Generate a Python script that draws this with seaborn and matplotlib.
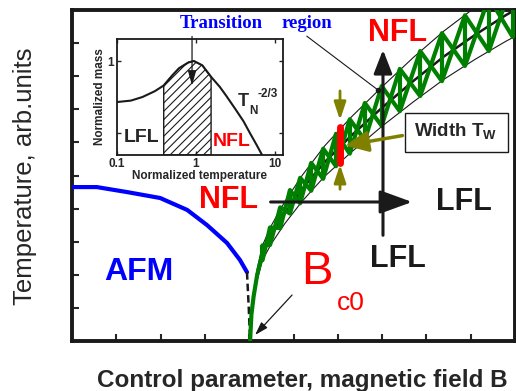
import numpy as np
import matplotlib
matplotlib.use("Agg")
import matplotlib.pyplot as plt
import seaborn as sns
from matplotlib.patches import Rectangle

# ---- main panel data (arb. units, field B vs temperature T) ----
afm_b = [0.0, 0.56, 1.24, 1.99, 2.60, 3.05, 3.50, 3.79, 3.95]
afm_t = [4.65, 4.65, 4.50, 4.32, 3.96, 3.50, 2.96, 2.45, 2.08]

dash_b = [3.95, 3.99, 4.02]
dash_t = [2.08, 1.00, 0.00]

band_b = [4.02, 4.05, 4.10, 4.18, 4.30, 4.50, 4.80, 5.20, 5.70, 6.30, 7.00, 7.70, 8.40, 9.10, 9.80, 10.0]
band_mid = [0.0, 0.80, 1.35, 2.00, 2.65, 3.20, 3.85, 4.60, 5.40, 6.20, 7.05, 7.85, 8.60, 9.25, 9.85, 10.0]
band_up = [0.0, 0.87, 1.47, 2.18, 2.89, 3.49, 4.20, 5.01, 5.89, 6.76, 7.68, 8.56, 9.37, 10.08, 10.74, 10.9]
band_low = [0.0, 0.74, 1.24, 1.84, 2.44, 2.94, 3.54, 4.23, 4.97, 5.70, 6.49, 7.22, 7.91, 8.51, 9.06, 9.20]

cell_b = [4.30, 4.47, 4.70, 4.92, 5.15, 5.40, 5.67, 5.96, 6.27, 6.61, 6.99, 7.40, 7.86, 8.35, 8.87, 9.41, 9.95]
cell_up = [2.89, 3.43, 4.04, 4.56, 4.93, 5.38, 5.81, 6.26, 6.70, 7.19, 7.70, 8.22, 8.76, 9.30, 9.84, 10.38, 10.88]
cell_low = [2.44, 2.90, 3.41, 3.85, 4.16, 4.54, 4.90, 5.28, 5.66, 6.07, 6.50, 6.94, 7.40, 7.85, 8.31, 8.76, 9.18]

width_b = [6.05, 6.05]
width_t = [5.38, 6.47]

# ---- inset data (normalized mass vs normalized temperature) ----
mass_t = [0.1, 0.15, 0.21, 0.3, 0.39, 0.5, 0.61, 0.8, 0.94, 1.2, 1.55, 2.0, 2.4, 3.2, 4.0, 4.8, 5.8, 6.8]
mass_m = [0.715, 0.725, 0.75, 0.79, 0.83, 0.90, 0.95, 0.99, 1.0, 0.97, 0.89, 0.82, 0.76, 0.66, 0.58, 0.50, 0.42, 0.35]
hatch_lo, hatch_hi = 0.39, 1.55

sns.set_theme(style="ticks")
plt.rcParams['font.family'] = ['Liberation Sans', 'DejaVu Sans']
plt.rcParams['mathtext.fontset'] = 'custom'
plt.rcParams['mathtext.rm'] = 'Liberation Sans'
plt.rcParams['mathtext.bf'] = 'Liberation Sans:bold'
plt.rcParams['hatch.linewidth'] = 0.8

fig = plt.figure(figsize=(5.16, 3.91), dpi=100)
ax = fig.add_axes([72/516, 1-341/391, 443/516, 331/391])

green = '#008000'
olive = '#808000'

sns.lineplot(x=afm_b, y=afm_t, ax=ax, sort=False, estimator=None, color='#0000ff', lw=3, zorder=3)
ax.plot(dash_b, dash_t, color='k', lw=1.8, ls=(0, (3, 1.6)), zorder=3)

sns.lineplot(x=band_b, y=band_up, ax=ax, sort=False, estimator=None, color='k', lw=0.8, zorder=2)
sns.lineplot(x=band_b, y=band_low, ax=ax, sort=False, estimator=None, color='k', lw=0.8, zorder=2)
sns.lineplot(x=band_b, y=band_mid, ax=ax, sort=False, estimator=None, color='k', lw=1.8, zorder=2)

# green stem from Bc0 up to the first cell, then the crossed cells
stem = np.array(band_b) <= cell_b[0]
ax.plot(np.array(band_b)[stem], np.array(band_mid)[stem], color=green, lw=3, zorder=4)
cb = np.array(cell_b)
cu = np.array(cell_up)
cl = np.array(cell_low)
even = np.arange(len(cb)) % 2 == 0
ax.plot(cb, np.where(even, cu, cl), color=green, lw=3, zorder=4)
ax.plot(cb, np.where(even, cl, cu), color=green, lw=3, zorder=4)
ax.vlines(cb, cl, cu, color=green, lw=3, zorder=4)

# width marker
ax.plot(width_b, width_t, color='red', lw=5, solid_capstyle='round', zorder=7)
ax.annotate('', xy=(6.05, 6.59), xytext=(6.05, 7.64), zorder=6,
            arrowprops=dict(arrowstyle='-|>,head_length=0.9,head_width=0.3', color=olive, lw=2, mutation_scale=12))
ax.annotate('', xy=(6.05, 5.41), xytext=(6.05, 4.50), zorder=6,
            arrowprops=dict(arrowstyle='-|>,head_length=0.9,head_width=0.3', color=olive, lw=2, mutation_scale=12))
ax.annotate('', xy=(6.10, 5.89), xytext=(7.52, 6.22), zorder=6,
            arrowprops=dict(arrowstyle='-|>,head_length=1.0,head_width=0.45', color=olive, lw=2.5, mutation_scale=14))
ax.add_patch(Rectangle((7.52, 5.71), 2.32, 1.18, facecolor='white', edgecolor='k', lw=1, zorder=6))
ax.text(8.67, 6.31, r'Width T$_\mathbf{W}$', fontsize=13.5, fontweight='bold', ha='center', va='center', zorder=7)

# crossover arrows
ax.annotate('', xy=(7.02, 8.88), xytext=(7.02, 3.11), zorder=5,
            arrowprops=dict(arrowstyle='-|>,head_length=0.9,head_width=0.35', color='k', lw=2.2, mutation_scale=16))
ax.annotate('', xy=(7.74, 4.20), xytext=(4.42, 4.20), zorder=5,
            arrowprops=dict(arrowstyle='-|>,head_length=1.1,head_width=0.4', color='k', lw=2.2, mutation_scale=18))
ax.annotate('', xy=(4.09, 0.12), xytext=(5.01, 1.45), zorder=5,
            arrowprops=dict(arrowstyle='-|>,head_length=0.8,head_width=0.25', color='k', lw=0.9, mutation_scale=10))

# leader to the transition region
ax.plot([5.30, 6.91], [9.21, 7.58], color='k', lw=0.8, zorder=5)
ax.plot([6.91], [7.58], 'o', color='k', ms=3, zorder=5)

ax.text(3.36, 9.58, 'Transition', color='#0000ff', family='Liberation Serif', fontweight='bold',
        fontsize=13.5, ha='center', va='center')
ax.text(5.30, 9.58, 'region', color='#0000ff', family='Liberation Serif', fontweight='bold',
        fontsize=13.5, ha='center', va='center')
ax.text(7.36, 9.31, 'NFL', color='red', fontweight='bold', fontsize=22, ha='center', va='center', zorder=6)
ax.text(3.54, 4.26, 'NFL', color='red', fontweight='bold', fontsize=22, ha='center', va='center', zorder=6)
ax.text(8.85, 4.20, 'LFL', color='k', fontweight='bold', fontsize=22, ha='center', va='center', zorder=6)
ax.text(7.36, 2.48, 'LFL', color='k', fontweight='bold', fontsize=22, ha='center', va='center', zorder=6)
ax.text(1.51, 2.08, 'AFM', color='#0000ff', fontweight='bold', fontsize=23, ha='center', va='center')
ax.text(5.53, 2.08, 'B', color='red', fontsize=34, ha='center', va='center')
ax.text(6.30, 1.15, 'c0', color='red', fontsize=19, ha='center', va='center')

ax.set_xlim(0, 10)
ax.set_ylim(0, 10)
ax.set_xticks(np.arange(0, 11))
ax.set_yticks(np.arange(0, 11))
ax.tick_params(direction='in', length=5, width=1.5, labelbottom=False, labelleft=False,
               top=False, right=False)
for s in ax.spines.values():
    s.set_visible(True)
    s.set_linewidth(2.8)
    s.set_color('k')
ax.set_xlabel('')
ax.set_ylabel('')

fig.text(25/516, 1-176.5/391, 'Temperature, arb.units', rotation=90, fontsize=18.5,
         ha='center', va='center')
fig.text(508/516, 1-387/391, 'Control parameter, magnetic field B', fontsize=17.5,
         fontweight='bold', ha='right', va='baseline')

# ---- inset ----
ins = fig.add_axes([117/516, 1-155/391, 166/516, 116/391])
ins.set_xscale('log')
sns.lineplot(x=mass_t, y=mass_m, ax=ins, sort=False, estimator=None, color='k', lw=1.5, zorder=3)
mt = np.array(mass_t)
mm = np.array(mass_m)
sel = (mt >= hatch_lo) & (mt <= hatch_hi)
ins.fill_between(mt[sel], 0.347, mm[sel], facecolor='none', edgecolor='k', hatch='////', lw=1, zorder=2)
ins.set_xlim(0.1, 12.6)
ins.set_ylim(0.347, 1.153)
ins.set_xticks([0.1, 1, 10])
ins.set_xticklabels(['0.1', '1', '10'], fontweight='bold', fontsize=8.5)
ins.xaxis.set_minor_locator(matplotlib.ticker.NullLocator())
ins.set_yticks([0.5, 1.0])
ins.set_yticklabels(['', '1'], fontweight='bold', fontsize=8.5)
ins.tick_params(direction='in', length=3, width=1, pad=2, top=True, right=True)
for s in ins.spines.values():
    s.set_linewidth(1.3)
    s.set_color('k')
ins.set_xlabel('Normalized temperature', fontsize=8.5, fontweight='bold', labelpad=0)
ins.set_ylabel('Normalized mass', fontsize=8.5, fontweight='bold', labelpad=1)
ins.text(0.204, 0.472, 'LFL', fontsize=14, fontweight='bold', ha='center', va='center')
ins.text(2.81, 0.4375, 'NFL', fontsize=14, fontweight='bold', color='red', ha='center', va='center')
ins.text(3.94, 0.72, 'T', fontsize=13, fontweight='bold', ha='center', va='center')
ins.text(5.35, 0.653, 'N', fontsize=8.5, fontweight='bold', ha='center', va='center')
ins.text(8.04, 0.771, '-2/3', fontsize=8.5, fontweight='bold', ha='center', va='center')
ins.annotate('', xy=(0.89, 0.81), xytext=(0.89, 1.19), annotation_clip=False,
             arrowprops=dict(arrowstyle='-|>,head_length=0.9,head_width=0.25', color='k', lw=0.9, mutation_scale=10))

fig.savefig('out.png', dpi=100)
